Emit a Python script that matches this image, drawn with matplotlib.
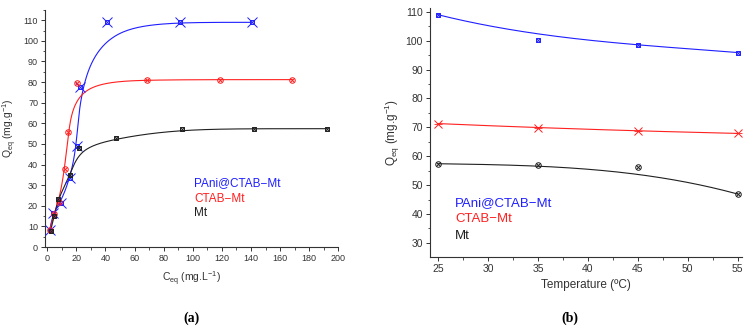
import numpy as np
import matplotlib
matplotlib.use('Agg')
import matplotlib.pyplot as plt
from matplotlib.ticker import MultipleLocator

plt.rcParams['font.family'] = ['Liberation Sans', 'DejaVu Sans']
plt.rcParams['mathtext.fontset'] = 'custom'
plt.rcParams['mathtext.rm'] = 'Liberation Sans'
plt.rcParams['mathtext.it'] = 'Liberation Sans:italic'

# (a) isotherms: Ceq (mg/L) vs Qeq (mg/g)
pani_c = [1.8, 3.7, 9.2, 15.8, 20.4, 22.5, 41.0, 91.2, 141.0]
pani_q = [8.3, 16.4, 21.2, 33.7, 49.1, 77.6, 109.0, 109.0, 109.0]
ctab_c = [1.8, 4.6, 8.0, 12.1, 14.4, 20.4, 68.5, 118.4, 168.4]
ctab_q = [8.3, 16.0, 21.8, 37.9, 55.7, 79.6, 81.2, 81.2, 81.2]
mt_c = [2.3, 4.8, 7.1, 15.8, 22.0, 47.2, 92.6, 142.3, 192.4]
mt_q = [7.8, 15.1, 23.2, 34.7, 47.8, 52.7, 57.4, 57.4, 57.4]

# (b) temperature effect
temp = [25, 35, 45, 55]
pani_t = [109.0, 100.4, 98.6, 95.9]
ctab_t = [71.3, 69.8, 68.7, 67.9]
mt_t = [57.4, 56.9, 56.3, 46.9]

names = ['PAni@CTAB\u2212Mt', 'CTAB\u2212Mt', 'Mt']
colors = ['#1f1fff', '#ff2020', '#202020']


def bspline(x, y, num=300, k=3):
    # clamped uniform B-spline with the data as control points (Origin style line)
    ctrl = np.column_stack([x, y]).astype(float)
    n = len(ctrl)
    t = np.concatenate([np.zeros(k), np.arange(n - k + 1), np.full(k, n - k)]).astype(float)
    u = np.linspace(0, n - k, num)
    B = np.array([(t[i] <= u) & (u < t[i + 1]) for i in range(len(t) - 1)], float)
    last = max(i for i in range(len(t) - 1) if t[i] < t[i + 1])
    B[last, u >= t[-1]] = 1.0
    for d in range(1, k + 1):
        Bn = np.zeros((len(t) - 1 - d, len(u)))
        for i in range(len(t) - 1 - d):
            if t[i + d] > t[i]:
                Bn[i] += (u - t[i]) / (t[i + d] - t[i]) * B[i]
            if t[i + d + 1] > t[i + 1]:
                Bn[i] += (t[i + d + 1] - u) / (t[i + d + 1] - t[i + 1]) * B[i + 1]
        B = Bn
    pts = B.T @ ctrl
    return pts[:, 0], pts[:, 1]


def marker(ax, x, y, color, base, bsize, xsize):
    ax.plot(x, y, linestyle='none', marker=base, ms=bsize, mfc='none', mec=color, mew=0.7, zorder=3)
    ax.plot(x, y, linestyle='none', marker='x', ms=xsize, mec=color, mew=0.7, zorder=3)


def style_axes(ax, fs):
    for s in ['top', 'right']:
        ax.spines[s].set_visible(False)
    for s in ['left', 'bottom']:
        ax.spines[s].set_linewidth(0.8)
        ax.spines[s].set_color('#333333')
    ax.tick_params(which='major', direction='out', length=3, width=0.7, labelsize=fs,
                   colors='#333333', pad=2)
    ax.tick_params(which='minor', direction='out', length=1.8, width=0.6, colors='#333333')


fig = plt.figure(figsize=(7.56, 3.32), dpi=100)

# ---- (a) ----
ax1 = fig.add_axes([0.0595, 0.256, 0.388, 0.714])
series_a = [(pani_c, pani_q), (ctab_c, ctab_q), (mt_c, mt_q)]
for (cx, cy), col in zip(series_a, colors):
    bx, by = bspline(cx, cy)
    ax1.plot(bx, by, color=col, lw=0.8, zorder=2)
marker(ax1, pani_c, pani_q, colors[0], 's', 3.5, 6.5)
marker(ax1, ctab_c, ctab_q, colors[1], 'o', 4, 3.5)
marker(ax1, mt_c, mt_q, colors[2], 's', 3.5, 3.5)

ax1.set_xlim(-1.5, 200)
ax1.set_ylim(0, 115)
ax1.xaxis.set_major_locator(MultipleLocator(20))
ax1.xaxis.set_minor_locator(MultipleLocator(10))
ax1.yaxis.set_major_locator(MultipleLocator(10))
ax1.yaxis.set_minor_locator(MultipleLocator(5))
style_axes(ax1, 6.5)
ax1.set_xlabel(r'C$_{\mathrm{eq}}$ (mg.L$^{-1}$)', fontsize=7.5, color='#333333', labelpad=5)
ax1.set_ylabel(r'Q$_{\mathrm{eq}}$ (mg.g$^{-1}$)', fontsize=7.5, color='#333333', labelpad=3)
for name, col, yy in zip(names, colors, [31, 23.3, 16.5]):
    ax1.text(101, yy, name, color=col, fontsize=8.5, va='center', ha='left')

# ---- (b) ----
ax2 = fig.add_axes([0.5688, 0.2268, 0.4123, 0.748])
series_b = [pani_t, ctab_t, mt_t]
for vals, col in zip(series_b, colors):
    bx, by = bspline(temp, vals)
    ax2.plot(bx, by, color=col, lw=0.8, zorder=2)
marker(ax2, temp, pani_t, colors[0], 's', 3.5, 3.5)
marker(ax2, temp, ctab_t, colors[1], 'o', 0.1, 6)
ax2.plot(temp, ctab_t, linestyle='none', marker='_', ms=6, mec=colors[1], mew=0.6, zorder=3)
marker(ax2, temp, mt_t, colors[2], 'o', 4, 3.5)

ax2.set_xlim(24.2, 55.4)
ax2.set_ylim(25.2, 111.2)
ax2.xaxis.set_major_locator(MultipleLocator(5))
ax2.xaxis.set_minor_locator(MultipleLocator(2.5))
ax2.yaxis.set_major_locator(MultipleLocator(10))
ax2.yaxis.set_minor_locator(MultipleLocator(5))
style_axes(ax2, 7.5)
ax2.set_xlabel('Temperature (\u00baC)', fontsize=8.5, color='#333333', labelpad=4)
ax2.set_ylabel(r'Q$_{\mathrm{eq}}$ (mg.g$^{-1}$)', fontsize=8.5, color='#333333', labelpad=3)
for name, col, yy in zip(names, colors, [43.6, 38.1, 32.3]):
    ax2.text(26.7, yy, name, color=col, fontsize=9.5, va='center', ha='left')

fig.text(192 / 756, 1 - 318 / 332, '(a)', family='Liberation Serif', fontsize=10, fontweight='bold',
         ha='center', va='center')
fig.text(570 / 756, 1 - 318 / 332, '(b)', family='Liberation Serif', fontsize=10, fontweight='bold',
         ha='center', va='center')

fig.savefig('out.png', dpi=100)
